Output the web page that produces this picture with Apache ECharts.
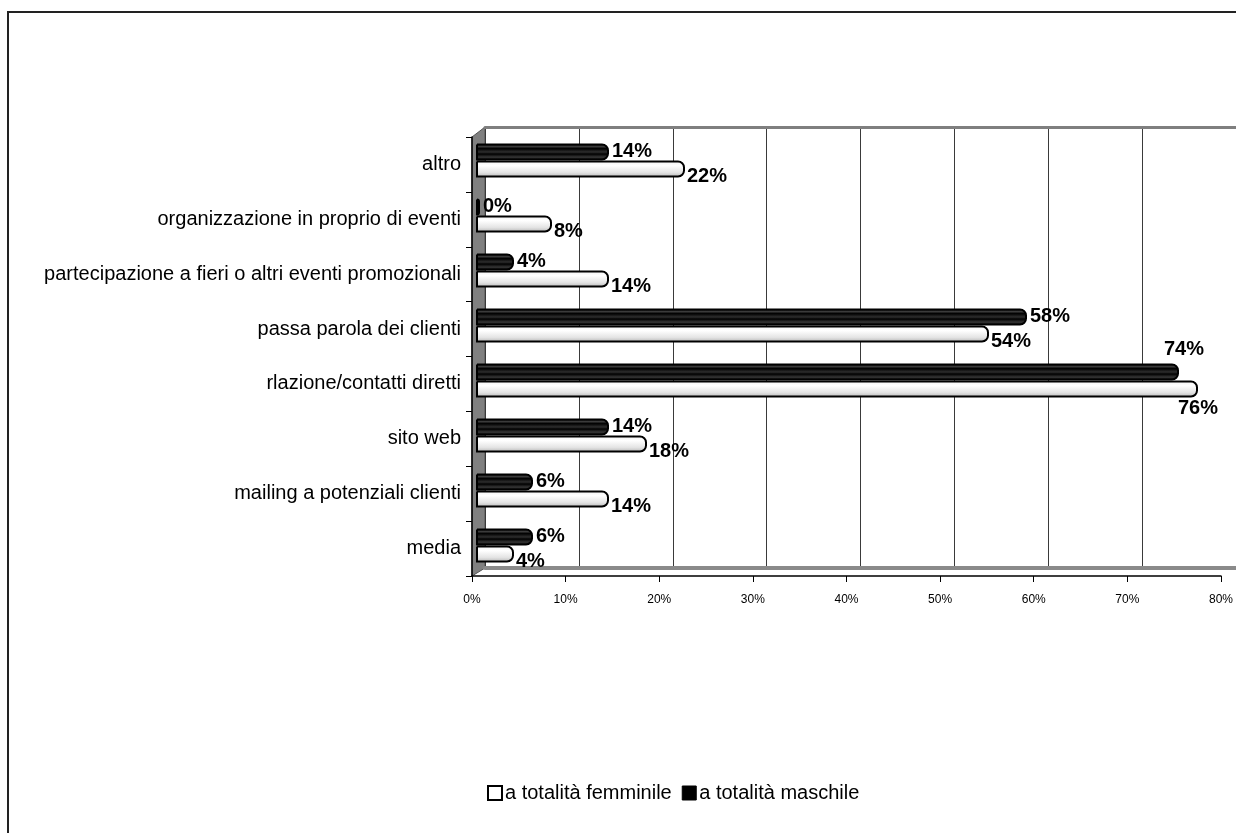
<!DOCTYPE html>
<html>
<head>
<meta charset="utf-8">
<style>
  html, body { margin: 0; padding: 0; background: #fff; }
  #chart { width: 1236px; height: 833px; }
</style>
<script src="https://cdn.jsdelivr.net/npm/echarts@6/dist/echarts.min.js"></script>
</head>
<body>
<div id="chart"></div>
<script>
// Categories listed bottom to top (category axis runs upward)
const categories = [
  'media',
  'mailing a potenziali clienti',
  'sito web',
  'rlazione/contatti diretti',
  'passa parola dei clienti',
  'partecipazione a fieri o altri eventi promozionali',
  'organizzazione in proprio di eventi',
  'altro'
];
const seriesNames = ['a totalità femminile', 'a totalità maschile'];
const femminile = [4, 14, 18, 76, 54, 14, 8, 22];
const maschile  = [6, 6, 14, 74, 58, 4, 0, 14];
const xTicks = { min: 0, max: 80, step: 10 };

const FONT = "'Liberation Sans', Arial, sans-serif";
const W = 1236, H = 833;

// three stacked depths of the pseudo-3D plot: front axes, bars, back wall
const FRONT = { left: 472, width: 758, top: 137, bottom: 576 };
const BARS  = { left: 476, width: 762, top: 133, bottom: 573 };
const BACK  = { left: 485, width: 757, top: 127, bottom: 568 };

const chart = echarts.init(document.getElementById('chart'), null, { renderer: 'canvas' });

const whiteFill = new echarts.graphic.LinearGradient(0, 0, 0, 1, [
  { offset: 0, color: '#f0f0f0' },
  { offset: 0.3, color: '#ffffff' },
  { offset: 0.7, color: '#e4e4e4' },
  { offset: 1, color: '#b4b4b4' }
]);
const blackFill = new echarts.graphic.LinearGradient(0, 0, 0, 1, [
  { offset: 0, color: '#000' },
  { offset: 0.18, color: '#3c3c3c' },
  { offset: 0.3, color: '#000' },
  { offset: 0.5, color: '#2e2e2e' },
  { offset: 0.62, color: '#000' },
  { offset: 0.8, color: '#353535' },
  { offset: 1, color: '#000' }
]);

const maxF = Math.max(...femminile);
const maxM = Math.max(...maschile);

// the longest bars carry their value labels below / above the bar end
function femData() {
  return femminile.map(v => v === maxF && v > 70
    ? { value: v, label: { position: ['100%', '100%'], align: 'center', verticalAlign: 'top', offset: [0, 1] } }
    : v);
}
function mascData() {
  return maschile.map(v => v === maxM && v > 70
    ? { value: v, label: { position: ['100%', 0], align: 'center', verticalAlign: 'bottom', offset: [5, -4] } }
    : v);
}

const dataLabel = {
  show: true,
  formatter: '{c}%',
  fontFamily: FONT,
  fontWeight: 'bold',
  fontSize: 20,
  color: '#000'
};

function gridOf(g) {
  return { left: g.left, width: g.width, top: g.top, bottom: H - g.bottom, show: false };
}
function valueAxis(gridIndex, extra) {
  return Object.assign({
    gridIndex: gridIndex, type: 'value',
    min: xTicks.min, max: xTicks.max, interval: xTicks.step,
    axisLine: { show: false }, axisTick: { show: false },
    axisLabel: { show: false }, splitLine: { show: false }
  }, extra);
}

chart.setOption({
  backgroundColor: '#ffffff',
  animation: false,
  textStyle: { fontFamily: FONT },
  grid: [gridOf(BARS), gridOf(BACK), gridOf(FRONT)],
  xAxis: [
    valueAxis(0, {}),
    valueAxis(1, {
      position: 'top',
      axisLine: { show: true, lineStyle: { color: '#7f7f7f', width: 3 } },
      splitLine: { show: true, lineStyle: { color: '#3a3a3a', width: 1 } }
    }),
    valueAxis(1, {
      position: 'bottom',
      axisLine: { show: true, lineStyle: { color: '#8a8a8a', width: 4 } }
    }),
    valueAxis(2, {
      axisLine: { show: true, lineStyle: { color: '#000', width: 1.5 } },
      axisTick: { show: true, length: 6, lineStyle: { color: '#000' } },
      axisLabel: { show: true, formatter: '{value}%', fontSize: 12, color: '#000', margin: 18, fontFamily: FONT }
    })
  ],
  yAxis: [
    { gridIndex: 0, type: 'category', data: categories, show: false },
    { gridIndex: 1, type: 'category', data: categories, show: false },
    {
      gridIndex: 2, type: 'category', data: categories,
      axisLine: { show: true, lineStyle: { color: '#000', width: 1.5 } },
      axisTick: { show: true, length: 6, inside: false, lineStyle: { color: '#000' } },
      axisLabel: { fontSize: 20, color: '#000', margin: 11, fontFamily: FONT },
      splitLine: { show: false }
    }
  ],
  legend: {
    left: 482, top: 778,
    itemWidth: 14, itemHeight: 14, itemGap: 10,
    icon: 'rect',
    textStyle: { fontSize: 20, color: '#000', fontFamily: FONT, padding: [0, 0, 0, -2] },
    data: [
      { name: seriesNames[0], itemStyle: { color: '#fff', borderColor: '#000', borderWidth: 2 } },
      { name: seriesNames[1], itemStyle: { color: '#000', borderColor: '#000', borderWidth: 1 } }
    ]
  },
  graphic: [
    // left side wall
    {
      type: 'polygon', z: 0, silent: true,
      shape: { points: [
        [FRONT.left, FRONT.top], [BACK.left, BACK.top],
        [BACK.left, BACK.bottom], [FRONT.left, FRONT.bottom]
      ] },
      style: { fill: '#808080', stroke: '#555', lineWidth: 1 }
    },
    // outer chart frame
    {
      type: 'rect', z: 0, silent: true,
      shape: { x: 8, y: 12, width: W, height: H },
      style: { fill: 'none', stroke: '#222', lineWidth: 2 }
    }
  ],
  // maschile listed first so that it sits in the upper half of each category band
  series: [
    {
      name: seriesNames[1], type: 'bar',
      xAxisIndex: 0, yAxisIndex: 0,
      data: mascData(),
      barWidth: 17, barGap: '0%',
      barMinHeight: 4,
      z: 3,
      itemStyle: { color: blackFill, borderColor: '#000', borderWidth: 2, borderRadius: [0, 6, 6, 0] },
      label: Object.assign({ position: 'right', distance: 3, offset: [0, -1] }, dataLabel)
    },
    {
      name: seriesNames[0], type: 'bar',
      xAxisIndex: 0, yAxisIndex: 0,
      data: femData(),
      barWidth: 17, barGap: '0%',
      z: 3,
      itemStyle: { color: whiteFill, borderColor: '#000', borderWidth: 2, borderRadius: [0, 6, 6, 0] },
      label: Object.assign({ position: 'right', distance: 2, offset: [0, 7] }, dataLabel)
    }
  ]
});
</script>
</body>
</html>
